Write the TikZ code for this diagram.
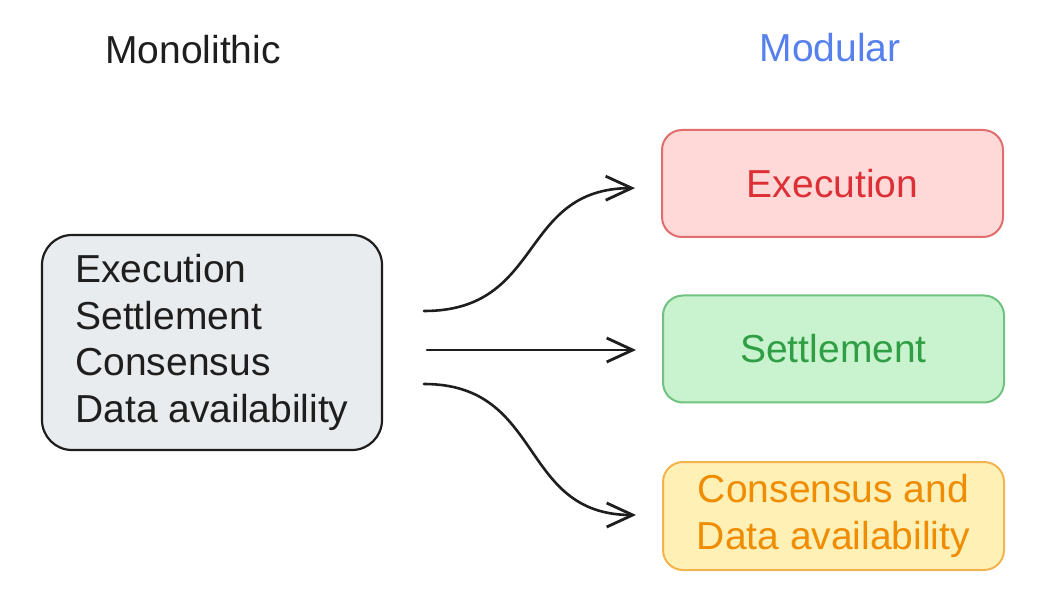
\documentclass[tikz,border=0pt]{standalone}
\usepackage{fontspec}
\setmainfont{Liberation Sans}
\usetikzlibrary{arrows.meta,calc}
\definecolor{ink}{HTML}{1E1E1E}
\definecolor{grayfill}{HTML}{E9ECEF}
\definecolor{redfill}{HTML}{FFD8D8}
\definecolor{redline}{HTML}{E26D6D}
\definecolor{redtext}{HTML}{DC3036}
\definecolor{greenfill}{HTML}{C9F3CF}
\definecolor{greenline}{HTML}{6FC27F}
\definecolor{greentext}{HTML}{2F9E44}
\definecolor{yellowfill}{HTML}{FFF0B6}
\definecolor{yellowline}{HTML}{F2B44E}
\definecolor{yellowtext}{HTML}{F08C00}
\definecolor{bluetext}{HTML}{5580EE}
\tikzset{
  txt/.style={font=\fontsize{39}{46.5}\selectfont},
  monobox/.style={txt, draw=ink, fill=grayfill, line width=2.2pt, rounded corners=30pt,
    minimum width=340pt, minimum height=215pt, align=left, text=ink, inner sep=0pt},
  modbox/.style={txt, line width=2pt, rounded corners=20pt,
    minimum width=341pt, minimum height=107pt, align=center, inner sep=0pt},
  conn/.style={draw=ink, line width=2.6pt, line cap=round,
    -{Straight Barb[length=26pt,width=24pt,line width=2.8pt]}, shorten >=26pt},
}
\begin{document}
\begin{tikzpicture}[x=1pt,y=-1pt]
\useasboundingbox[fill=white] (0,0) rectangle (1045,612);
\node[txt, text=ink] (t1) at (193,50) {Monolithic};
\node[txt, text=bluetext] (t2) at (830,48) {Modular};
\node[monobox] (mono) at (212,342.5) {Execution\\Settlement\\Consensus\\Data availability};
\node[modbox, draw=redline, fill=redfill, text=redtext] (exe) at (832.5,183.5) {Execution};
\node[modbox, draw=greenline, fill=greenfill, text=greentext] (set) at (833.5,349) {Settlement};
\node[modbox, draw=yellowline, fill=yellowfill, text=yellowtext, minimum height=108pt] (con) at (833.5,516) {Consensus and\\Data availability};
\coordinate (s1) at (424,311);
\coordinate (s2) at (427,350);
\coordinate (s3) at (424,384);
\coordinate (e1) at ($(exe.west)+(0,4.5)$);
\coordinate (e3) at ($(con.west)+(0,-1)$);
\draw[conn] (s1) .. controls (545,311) and (518,188.5) .. (e1);
\draw[conn] (s2) -- (set.west |- s2);
\draw[conn] (s3) .. controls (545,384) and (518,515) .. (e3);
\end{tikzpicture}
\end{document}
